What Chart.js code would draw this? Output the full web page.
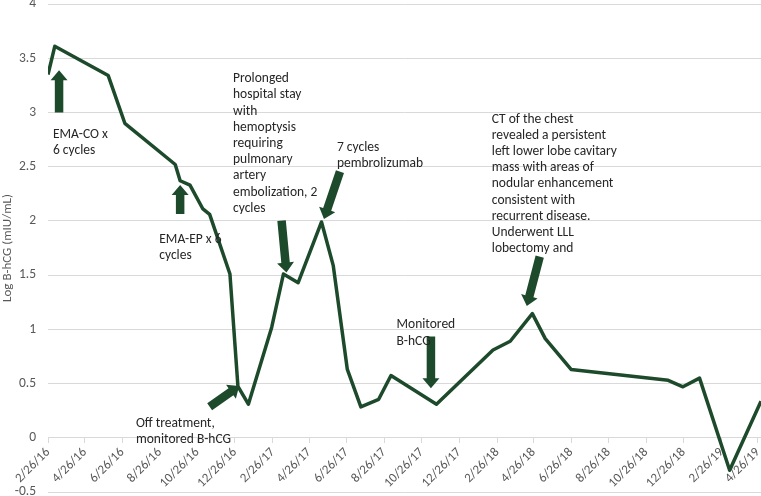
<!DOCTYPE html>
<html>
<head>
<meta charset="utf-8">
<script src="https://cdn.jsdelivr.net/npm/chart.js@4.4.1/dist/chart.umd.min.js"></script>
<style>
  html, body { margin: 0; padding: 0; background: #fff; }
  #wrap { width: 761px; height: 496px; }
</style>
</head>
<body>
<div id="wrap"><canvas id="chart-hcg" width="761" height="496"></canvas></div>
<script>
// ── Data ──────────────────────────────────────────────────────
const dates = [
  '2/26/16', '3/8/16', '6/3/16', '6/30/16', '9/20/16', '9/28/16', '10/14/16', '11/4/16',
  '11/15/16', '12/18/16', '12/31/16', '1/17/17', '2/24/17', '3/15/17', '4/8/17', '5/16/17',
  '6/4/17', '6/27/17', '7/19/17', '8/17/17', '9/6/17', '11/19/17', '2/19/18', '3/19/18',
  '4/24/18', '5/15/18', '6/26/18', '12/1/18', '12/25/18', '1/21/19', '3/11/19', '5/1/19',
];
const logHcg = [
  3.35, 3.61, 3.34, 2.90, 2.52, 2.37, 2.33, 2.11,
  2.06, 1.51, 0.475, 0.31, 1.02, 1.51, 1.43, 1.99,
  1.59, 0.63, 0.285, 0.355, 0.574, 0.31, 0.81, 0.89,
  1.145, 0.914, 0.63, 0.53, 0.47, 0.55, -0.30, 0.336,
];
const tickLabels = [
  '2/26/16', '4/26/16', '6/26/16', '8/26/16', '10/26/16', '12/26/16',
  '2/26/17', '4/26/17', '6/26/17', '8/26/17', '10/26/17', '12/26/17',
  '2/26/18', '4/26/18', '6/26/18', '8/26/18', '10/26/18', '12/26/18',
  '2/26/19', '4/26/19',
];
const yTicks = { min: -0.5, max: 4, step: 0.5 };

// Annotation arrows (tail -> tip) and notes, anchored in data units
const arrows = [
  { from: ['3/15/16', 3.0],   to: ['3/15/16', 3.39] },
  { from: ['9/28/16', 2.063], to: ['9/28/16', 2.332] },
  { from: ['11/15/16', 0.287], to: ['1/2/17', 0.478] },
  { from: ['3/12/17', 2.003], to: ['3/20/17', 1.523] },
  { from: ['6/15/17', 2.455], to: ['5/20/17', 2.018] },
  { from: ['11/10/17', 0.933], to: ['11/10/17', 0.457] },
  { from: ['5/6/18', 1.671],  to: ['4/15/18', 1.216] },
];
const notes = [
  { at: ['3/5/16', 2.762], lines: ['EMA-CO x', '6 cycles'] },
  { at: ['8/25/16', 1.80], lines: ['EMA-EP x 6', 'cycles'] },
  { at: ['7/18/16', 0.097], lines: ['Off treatment,', 'monitored B-hCG'] },
  { at: ['12/23/16', 3.278], lines: ['Prolonged', 'hospital stay', 'with', 'hemoptysis',
    'requiring', 'pulmonary', 'artery', 'embolization, 2', 'cycles'] },
  { at: ['6/10/17', 2.649], lines: ['7 cycles', 'pembrolizumab'] },
  { at: ['9/15/17', 1.008], lines: ['Monitored', 'B-hCG'] },
  { at: ['2/17/18', 2.907], lines: ['CT of the chest', 'revealed a persistent',
    'left lower lobe cavitary', 'mass with areas of', 'nodular enhancement',
    'consistent with', 'recurrent disease.', 'Underwent LLL', 'lobectomy and'] },
];

// ── Helpers ───────────────────────────────────────────────────
/** 'M/D/YY' -> day number */
function dayNum(s) {
  const [m, d, y] = s.split('/').map(Number);
  return Date.UTC(2000 + y, m - 1, d) / 86400000;
}
function fmtDay(v) {
  const dt = new Date(v * 86400000);
  return `${dt.getUTCMonth() + 1}/${dt.getUTCDate()}/${String(dt.getUTCFullYear()).slice(2)}`;
}

const GREEN = '#1e4a2c';
const TEXT = '#595959';
const GRID = '#d9d9d9';
const FONT = "Carlito, Lato, 'Noto Sans', sans-serif";
Chart.defaults.font.family = FONT;
Chart.defaults.font.size = 13;
Chart.defaults.color = TEXT;

const points = dates.map((d, i) => ({ x: dayNum(d), y: logHcg[i] }));

// Block arrow drawn along tail -> tip
function blockArrow(c, x1, y1, x2, y2, shaft, head, headLen) {
  const len = Math.hypot(x2 - x1, y2 - y1);
  const ux = (x2 - x1) / len, uy = (y2 - y1) / len;
  const nx = -uy, ny = ux;
  const bx = x2 - ux * headLen, by = y2 - uy * headLen;
  c.beginPath();
  c.moveTo(x1 + nx * shaft / 2, y1 + ny * shaft / 2);
  c.lineTo(bx + nx * shaft / 2, by + ny * shaft / 2);
  c.lineTo(bx + nx * head / 2, by + ny * head / 2);
  c.lineTo(x2, y2);
  c.lineTo(bx - nx * head / 2, by - ny * head / 2);
  c.lineTo(bx - nx * shaft / 2, by - ny * shaft / 2);
  c.lineTo(x1 - nx * shaft / 2, y1 - ny * shaft / 2);
  c.closePath();
  c.fill();
}

const annotationPlugin = {
  id: 'annotations',
  afterDatasetsDraw(chart) {
    const { ctx: c, scales: { x, y } } = chart;
    const px = (p) => [x.getPixelForValue(dayNum(p[0])), y.getPixelForValue(p[1])];
    c.save();
    c.fillStyle = GREEN;
    arrows.forEach((a) => {
      const [x1, y1] = px(a.from);
      const [x2, y2] = px(a.to);
      blockArrow(c, x1, y1, x2, y2, 8.5, 17, 10);
    });
    c.fillStyle = '#262626';
    c.font = `13.5px ${FONT}`;
    c.textAlign = 'left';
    c.textBaseline = 'alphabetic';
    notes.forEach((n) => {
      const [tx, ty] = px(n.at);
      n.lines.forEach((line, i) => c.fillText(line, tx, ty + i * 16.2));
    });
    c.restore();
  },
};

new Chart(document.getElementById('chart-hcg').getContext('2d'), {
  type: 'line',
  data: {
    datasets: [
      {
        label: 'Log B-hCG',
        data: points,
        borderColor: GREEN,
        borderWidth: 3.5,
        borderJoinStyle: 'round',
        pointRadius: 0,
        tension: 0,
        fill: false,
      },
    ],
  },
  options: {
    responsive: false,
    animation: false,
    layout: { padding: { top: 4, bottom: 4, left: 0, right: 0 } },
    plugins: {
      legend: { display: false },
      tooltip: { enabled: false },
    },
    scales: {
      x: {
        type: 'linear',
        position: { y: 0 },
        min: dayNum(dates[0]),
        max: dayNum(dates[dates.length - 1]),
        afterBuildTicks: (scale) => {
          scale.ticks = tickLabels.map((t) => ({ value: dayNum(t) }));
        },
        afterFit: (scale) => {
          scale.paddingLeft = 0;
          scale.paddingRight = 0;
        },
        ticks: {
          autoSkip: false,
          minRotation: 45,
          maxRotation: 45,
          padding: 2,
          color: TEXT,
          font: { size: 13 },
          callback: (v) => fmtDay(v),
        },
        grid: { drawOnChartArea: false, drawTicks: true, tickLength: 5, color: GRID },
        border: { display: true, color: GRID },
      },
      y: {
        min: yTicks.min,
        max: yTicks.max,
        afterFit: (scale) => {
          scale.width = 48;
          scale.paddingTop = 0;
          scale.paddingBottom = 0;
        },
        ticks: {
          stepSize: yTicks.step,
          padding: 12,
          color: TEXT,
          font: { size: 13.5 },
          callback: (v) => String(Math.round(v * 10) / 10),
        },
        grid: { color: GRID, drawTicks: false },
        border: { display: false },
        title: {
          display: true,
          text: 'Log B-hCG (mIU/mL)',
          color: TEXT,
          font: { size: 13 },
          padding: { top: 0, bottom: 0 },
        },
      },
    },
  },
  plugins: [annotationPlugin],
});
</script>
</body>
</html>
